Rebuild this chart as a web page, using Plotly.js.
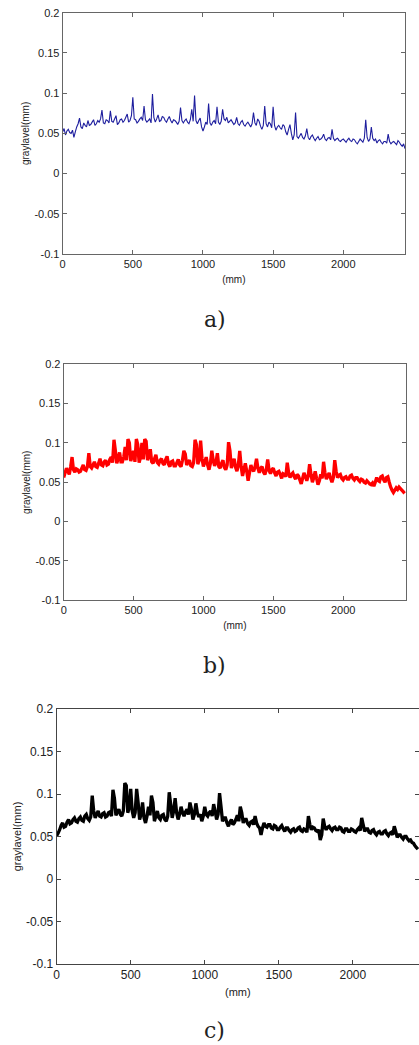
<!DOCTYPE html>
<html>
<head>
<meta charset="utf-8">
<script src="https://cdn.plot.ly/plotly-3.0.1.min.js"></script>
<style>
html,body{margin:0;padding:0;background:#fff;}
#chart{width:419px;height:1045px;}
</style>
</head>
<body>
<div id="chart"></div>
<script>
// sample positions along the profile (mm)
const positionsMm = [
0,10,20,30,40,50,60,70,80,90,100,110,120,130,140,150,160,170,180,190,
200,210,220,230,240,250,260,270,280,290,300,310,320,330,340,350,360,370,380,390,
400,410,420,430,440,450,460,470,480,490,500,510,520,530,540,550,560,570,580,590,
600,610,620,630,640,650,660,670,680,690,700,710,720,730,740,750,760,770,780,790,
800,810,820,830,840,850,860,870,880,890,900,910,920,930,940,950,960,970,980,990,
1000,1010,1020,1030,1040,1050,1060,1070,1080,1090,1100,1110,1120,1130,1140,1150,1160,1170,1180,1190,
1200,1210,1220,1230,1240,1250,1260,1270,1280,1290,1300,1310,1320,1330,1340,1350,1360,1370,1380,1390,
1400,1410,1420,1430,1440,1450,1460,1470,1480,1490,1500,1510,1520,1530,1540,1550,1560,1570,1580,1590,
1600,1610,1620,1630,1640,1650,1660,1670,1680,1690,1700,1710,1720,1730,1740,1750,1760,1770,1780,1790,
1800,1810,1820,1830,1840,1850,1860,1870,1880,1890,1900,1910,1920,1930,1940,1950,1960,1970,1980,1990,
2000,2010,2020,2030,2040,2050,2060,2070,2080,2090,2100,2110,2120,2130,2140,2150,2160,2170,2180,2190,
2200,2210,2220,2230,2240,2250,2260,2270,2280,2290,2300,2310,2320,2330,2340,2350,2360,2370,2380,2390,
2400,2410,2420,2430,2440];

// a) blue profile (gray level, mm)
const grayA = [
.052,.056,.048,.053,.055,.051,.050,.054,.045,.052,.058,.062,.069,.058,.056,.063,.060,.058,.066,.060,
.061,.064,.067,.060,.062,.066,.064,.068,.079,.063,.062,.067,.066,.063,.078,.065,.064,.068,.072,.061,
.063,.067,.068,.064,.066,.070,.074,.064,.066,.072,.095,.068,.067,.063,.065,.068,.070,.066,.084,.067,
.064,.066,.068,.063,.099,.070,.064,.068,.073,.065,.066,.071,.070,.066,.064,.068,.071,.066,.063,.067,
.066,.064,.061,.065,.082,.066,.063,.066,.068,.064,.062,.067,.080,.065,.097,.066,.062,.066,.069,.058,
.053,.058,.064,.061,.087,.063,.060,.064,.066,.062,.083,.064,.061,.065,.080,.068,.066,.070,.063,.065,
.067,.064,.061,.063,.070,.062,.060,.064,.066,.061,.059,.062,.064,.061,.058,.062,.076,.063,.060,.068,
.065,.059,.055,.060,.084,.062,.058,.064,.062,.057,.083,.060,.054,.058,.060,.057,.055,.061,.059,.052,
.048,.055,.061,.050,.042,.048,.076,.046,.044,.047,.050,.045,.043,.047,.056,.045,.042,.046,.048,.044,
.041,.044,.046,.042,.043,.045,.049,.043,.041,.044,.045,.042,.055,.044,.041,.043,.044,.041,.040,.042,
.043,.041,.039,.042,.044,.041,.040,.043,.042,.039,.037,.040,.043,.041,.039,.044,.067,.045,.040,.043,
.058,.044,.041,.043,.038,.041,.042,.039,.037,.040,.040,.038,.049,.040,.037,.039,.040,.038,.036,.041,
.039,.036,.034,.037,.031];

// b) red profile (gray level, mm)
const grayB = [
.056,.062,.068,.064,.060,.070,.082,.066,.063,.067,.066,.063,.064,.068,.072,.066,.065,.070,.087,.070,
.068,.072,.076,.070,.069,.074,.080,.072,.071,.076,.078,.072,.073,.079,.082,.075,.104,.090,.074,.080,
.088,.076,.076,.082,.095,.078,.105,.100,.077,.083,.090,.076,.105,.098,.075,.082,.100,.079,.105,.102,
.078,.084,.092,.076,.074,.080,.085,.075,.073,.078,.080,.074,.072,.079,.083,.073,.070,.076,.077,.071,
.071,.075,.079,.072,.070,.078,.090,.086,.072,.076,.078,.071,.070,.075,.104,.098,.073,.078,.103,.080,
.070,.076,.082,.072,.066,.074,.090,.078,.071,.075,.087,.070,.068,.074,.078,.069,.066,.072,.101,.090,
.068,.074,.080,.069,.064,.072,.090,.070,.058,.066,.074,.064,.052,.062,.072,.066,.064,.070,.080,.068,
.062,.068,.070,.063,.060,.066,.079,.065,.061,.066,.068,.062,.058,.063,.064,.060,.055,.061,.060,.057,
.075,.062,.056,.060,.062,.057,.054,.060,.058,.053,.048,.055,.062,.057,.052,.058,.073,.060,.050,.056,
.064,.055,.047,.052,.060,.055,.076,.062,.054,.058,.062,.055,.050,.056,.078,.064,.056,.059,.060,.055,
.053,.056,.057,.054,.054,.058,.059,.055,.053,.056,.056,.053,.051,.054,.053,.050,.049,.052,.050,.048,
.047,.049,.045,.050,.056,.052,.051,.057,.058,.053,.050,.056,.057,.050,.044,.040,.037,.040,.043,.041,
.044,.042,.040,.038,.036];

// c) black profile (gray level, mm)
const grayC = [
.051,.054,.058,.063,.066,.061,.062,.067,.070,.065,.066,.070,.072,.068,.067,.071,.073,.069,.068,.074,
.076,.071,.069,.073,.098,.080,.072,.076,.080,.074,.073,.077,.078,.073,.074,.078,.079,.074,.105,.095,
.075,.079,.082,.076,.074,.080,.113,.110,.078,.084,.106,.080,.072,.078,.106,.090,.070,.076,.090,.072,
.066,.074,.085,.075,.098,.090,.068,.074,.080,.072,.070,.075,.076,.070,.068,.074,.102,.088,.072,.080,
.095,.078,.070,.076,.085,.078,.074,.079,.082,.076,.090,.082,.070,.076,.089,.078,.073,.076,.068,.074,
.085,.076,.074,.078,.080,.074,.088,.080,.070,.076,.101,.085,.068,.072,.072,.066,.062,.067,.070,.064,
.066,.070,.075,.068,.085,.078,.066,.070,.070,.065,.063,.067,.068,.064,.074,.066,.062,.060,.052,.060,
.066,.062,.061,.064,.064,.060,.059,.063,.062,.058,.058,.061,.063,.059,.056,.060,.060,.057,.055,.058,
.059,.056,.057,.060,.061,.057,.056,.059,.058,.055,.074,.064,.058,.061,.060,.057,.056,.058,.046,.052,
.071,.062,.058,.061,.062,.059,.057,.060,.061,.058,.058,.061,.060,.056,.055,.059,.059,.056,.056,.059,
.058,.056,.055,.058,.060,.057,.072,.064,.056,.059,.059,.055,.054,.057,.058,.054,.052,.055,.056,.053,
.053,.056,.057,.053,.051,.054,.055,.052,.062,.056,.049,.052,.052,.049,.047,.050,.050,.047,.045,.046,
.043,.042,.039,.037,.035];

const xTickVals = [0,500,1000,1500,2000];
const xTickText = ['0','500','1000','1500','2000'];
const yTickVals = [-0.1,-0.05,0,0.05,0.1,0.15,0.2];
const yTickText = ['-0.1','-0.05','0','0.05','0.1','0.15','0.2'];
const xTitle = '(mm)';
const yTitle = 'graylavel(mm)';
const captions = ['a)','b)','c)'];

const SANS = 'Liberation Sans, Arial, sans-serif';

function xAxis(domain, range, fs, axcol, standoff){
  return {domain:domain, range:range, tickvals:xTickVals, ticktext:xTickText,
    ticks:'inside', ticklen:4, tickcolor:axcol, showline:true, linecolor:axcol, linewidth:1,
    mirror:'ticks', showgrid:false, zeroline:false, fixedrange:true,
    tickfont:{family:SANS, size:fs, color:'#222'},
    title:{text:xTitle, font:{family:SANS, size:fs-1, color:'#222'}, standoff:standoff}};
}
function yAxis(domain, fs, axcol){
  return {domain:domain, range:[-0.1,0.2], tickvals:yTickVals, ticktext:yTickText,
    ticks:'inside', ticklen:4, tickcolor:axcol, showline:true, linecolor:axcol, linewidth:1,
    mirror:'ticks', showgrid:false, zeroline:false, fixedrange:true,
    tickfont:{family:SANS, size:fs, color:'#222'},
    title:{text:yTitle, font:{family:SANS, size:fs-1, color:'#222'}, standoff:2}};
}

const traces = [
  {x:positionsMm, y:grayA, type:'scatter', mode:'lines', xaxis:'x', yaxis:'y',
   line:{color:'#1e1e9e', width:1.1, simplify:false}},
  {x:positionsMm, y:grayB, type:'scatter', mode:'lines', xaxis:'x2', yaxis:'y2',
   line:{color:'#ff0000', width:3.3, simplify:false}},
  {x:positionsMm, y:grayC, type:'scatter', mode:'lines', xaxis:'x3', yaxis:'y3',
   line:{color:'#000000', width:3.3, simplify:false}}
];

const capFont = {family:'DejaVu Serif, Liberation Serif, serif', size:22, color:'#222'};

const layout = {
  width:419, height:1045, margin:{l:0,r:0,t:0,b:0},
  paper_bgcolor:'#fff', plot_bgcolor:'#fff', showlegend:false,
  xaxis: Object.assign(xAxis([0.1496,0.9666],[0,2440],11,'#666',6),{anchor:'y'}),
  yaxis: Object.assign(yAxis([0.7569,0.9878],11,'#666'),{anchor:'x'}),
  xaxis2: Object.assign(xAxis([0.1520,0.9690],[0,2450],11,'#666',6),{anchor:'y2'}),
  yaxis2: Object.assign(yAxis([0.4256,0.6514],11,'#666'),{anchor:'x2'}),
  xaxis3: Object.assign(xAxis([0.1353,1],[0,2447],12,'#444',6),{anchor:'y3'}),
  yaxis3: Object.assign(yAxis([0.0775,0.3215],12,'#444'),{anchor:'x3'}),
  annotations:[
    {text:captions[0], xref:'paper', yref:'paper', x:0.512, y:0.6938, showarrow:false, xanchor:'center', yanchor:'middle', font:capFont},
    {text:captions[1], xref:'paper', yref:'paper', x:0.512, y:0.3636, showarrow:false, xanchor:'center', yanchor:'middle', font:capFont},
    {text:captions[2], xref:'paper', yref:'paper', x:0.512, y:0.0134, showarrow:false, xanchor:'center', yanchor:'middle', font:capFont}
  ]
};

Plotly.newPlot('chart', traces, layout, {staticPlot:true, displayModeBar:false});
</script>
</body>
</html>
